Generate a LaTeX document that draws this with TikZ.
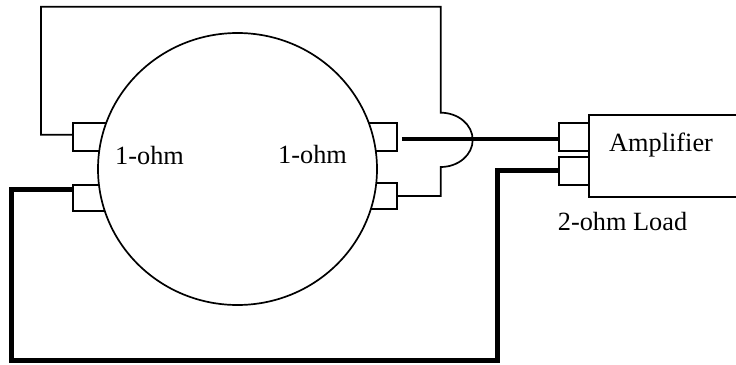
\documentclass[tikz,border=0pt]{standalone}
\usepackage{fontspec}
\setmainfont{Liberation Serif}
\usetikzlibrary{shapes.geometric}
\tikzset{
	thinwire/.style={line width=1.7pt},
	thickwire/.style={line width=4.8pt},
	terminal/.style={draw,line width=1.7pt,fill=white,rectangle,inner sep=0pt,minimum width=36pt,minimum height=28pt},
	lbl/.style={anchor=base west,inner sep=0pt,font=\fontsize{26.3pt}{28pt}\selectfont}
}
\begin{document}
\begin{tikzpicture}[x=1pt,y=-1pt]
	\useasboundingbox (0,0) rectangle (736,364);
	% terminals go under the circle
	\node[terminal] (termLA) at (90.7,136.7) {};
	\node[terminal,minimum height=26pt] (termLB) at (90.7,197.7) {};
	\node[terminal] (termRA) at (379,136.7) {};
	\node[terminal,minimum height=25.5pt] (termRB) at (379,196) {};
	\node[draw,ellipse,thinwire,fill=white,inner sep=0pt,minimum width=279pt,minimum height=272pt] (machine) at (237.5,169) {};
	% amplifier
	\node[draw,thinwire,rectangle,inner sep=0pt,minimum width=150pt,minimum height=81.7pt] (amp) at (663.7,155.9) {};
	\node[terminal,minimum width=30pt] (ampA) at (573.7,136.7) {};
	\node[terminal,minimum width=30pt] (ampB) at (573.7,170.7) {};
	% labels
	\node[lbl] (ohmL) at (115,164) {1-ohm};
	\node[lbl] (ohmR) at (278,163) {1-ohm};
	\node[lbl] (ampText) at (609,151) {Amplifier};
	\node[lbl] (loadText) at (557.7,230) {2-ohm Load};
	% wire corners
	\coordinate (c1) at (41,6.7);
	\coordinate (c2) at (440.7,112.7);
	\coordinate (c3) at (440.7,167);
	\coordinate (c4) at (11.7,360.7);
	\coordinate (c5) at (497.7,360.7);
	% thin wire
	\draw[thinwire] ([yshift=2pt]termLA.west) -| (c1) -| (c2) arc[start angle=90,end angle=-90,x radius=32pt,y radius=27.15pt] -- (c3) |- (termRB.east);
	% thick wires
	\draw[thickwire,shorten <=4pt] ([yshift=-2.3pt]termRA.east) -- ([yshift=-2.3pt]ampA.west);
	\draw[thickwire] ([yshift=8pt]termLB.west) -| (c4) -- (c5) |- (ampB.west);
\end{tikzpicture}
\end{document}
